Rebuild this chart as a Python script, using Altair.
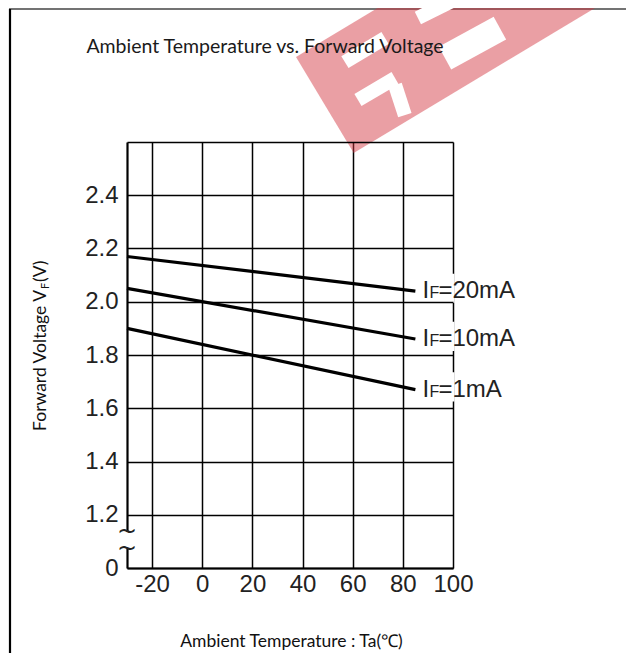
import altair as alt
import pandas as pd

# ---- chart data ----
temps = [-30, 85]
vf_20ma = [2.17, 2.04]
vf_10ma = [2.05, 1.86]
vf_1ma = [1.90, 1.67]
series_labels = ["=20mA", "=10mA", "=1mA"]

x_ticks = [-30, -20, 0, 20, 40, 60, 80, 100]
y_ticks = [1.0, 1.2, 1.4, 1.6, 1.8, 2.0, 2.2, 2.4, 2.6]

chart_title = "Ambient Temperature vs. Forward Voltage"
x_title = "Ambient Temperature : Ta(℃)"
y_title_main = "Forward Voltage V"
y_title_sub = "F"
y_title_unit = "(V)"

# axis-break squiggles on the value axis (compressed 0 .. 1.2 segment)
break_y = [1.135, 1.072]
break_x = [-30, -30]

# watermark (decoration): red band and white cut-outs, in data units
wm_band_x = [48.9, 185.7]
wm_band_y = [2.739, 3.513]
wm_cut_x1 = [56.9, 62.1, 76.9, 96.8, 86.0]
wm_cut_y1 = [2.900, 2.758, 2.814, 2.915, 3.066]
wm_cut_x2 = [72.9, 76.9, 80.8, 118.7, 106.8]
wm_cut_y2 = [2.991, 2.840, 2.701, 3.028, 3.163]
wm_cut_w = [14, 14, 14, 26, 14]

rows = []
for lab, vals in zip(series_labels, [vf_20ma, vf_10ma, vf_1ma]):
    for t, v in zip(temps, vals):
        rows.append({"series": lab, "temp": t, "vf": v})
lines_df = pd.DataFrame(rows)
ends_df = pd.DataFrame({
    "series": series_labels,
    "temp": [temps[-1]] * 3,
    "vf": [vf_20ma[-1], vf_10ma[-1], vf_1ma[-1]],
})
break_df = pd.DataFrame({"x": break_x, "y": break_y})
band_df = pd.DataFrame({"x": [wm_band_x[0]], "y": [wm_band_y[0]],
                        "x2": [wm_band_x[1]], "y2": [wm_band_y[1]]})
cut_df = pd.DataFrame({"x": wm_cut_x1, "y": wm_cut_y1, "x2": wm_cut_x2,
                       "y2": wm_cut_y2, "w": wm_cut_w})

xscale = alt.Scale(domain=[-30, 100], nice=False, zero=False)
yscale = alt.Scale(domain=[1.0, 2.6], nice=False, zero=False)

LABEL_FONT = "Liberation Sans"
TITLE_FONT = "Lato"

x_axis = alt.Axis(
    values=x_ticks,
    labelExpr="datum.value == -30 ? '' : toString(datum.value)",
    labelFont=LABEL_FONT, labelFontSize=24, labelColor="#222",
    labelPadding=4, ticks=False, labelOverlap=False, labelFlush=False,
    domain=True, domainColor="black", domainWidth=2,
    grid=True, gridColor="black", gridOpacity=1,
    gridWidth={"condition": {"test": "datum.value === -30", "value": 2.2}, "value": 1.5},
    zindex=0,
    title=x_title,
    titleFont=TITLE_FONT, titleFontSize=17.5, titleFontWeight="normal", titleColor="#111",
    titleX=164, titleY=78, titleBaseline="alphabetic", titleAlign="center",
)
y_axis = alt.Axis(
    values=y_ticks,
    labelExpr="datum.value > 2.5 ? '' : (datum.value < 1.1 ? '0' : format(datum.value, '.1f'))",
    labelFont=LABEL_FONT, labelFontSize=24, labelColor="#222",
    labelPadding=9, ticks=False, domain=False, labelOverlap=False, labelFlush=False,
    grid=True, gridColor="black", gridOpacity=1, gridWidth=1.5,
    zindex=1,
    title="",
)

title_mark = alt.Chart().mark_text(
    text=chart_title, font=TITLE_FONT, fontSize=19.5, color="#1a1a1a",
    align="center", baseline="alphabetic", clip=False,
).encode(x=alt.value(138), y=alt.value(-89))

# rotated value-axis title with a subscript F
yt_kw = dict(angle=270, baseline="alphabetic", font=TITLE_FONT, color="#111", clip=False)
yt_main = alt.Chart().mark_text(text=y_title_main, align="right", fontSize=17.5, **yt_kw).encode(
    x=alt.value(-81), y=alt.value(148))
yt_sub = alt.Chart().mark_text(text=y_title_sub, align="left", fontSize=11, dx=1, dy=3, **yt_kw).encode(
    x=alt.value(-81), y=alt.value(148))
yt_unit = alt.Chart().mark_text(text=y_title_unit, align="left", fontSize=17.5, dx=8, **yt_kw).encode(
    x=alt.value(-81), y=alt.value(148))

band = alt.Chart(band_df).mark_rule(
    strokeWidth=112, strokeCap="butt", color="#D2353F", opacity=0.475, clip=False
).encode(
    x=alt.X("x:Q", scale=xscale, axis=x_axis), y=alt.Y("y:Q", scale=yscale, axis=y_axis),
    x2="x2:Q", y2="y2:Q",
)
cuts = alt.Chart(cut_df).mark_rule(strokeCap="butt", color="white", clip=False).encode(
    x=alt.X("x:Q", scale=xscale), y=alt.Y("y:Q", scale=yscale),
    x2="x2:Q", y2="y2:Q",
    strokeWidth=alt.StrokeWidth("w:Q", scale=None),
)

lines = alt.Chart(lines_df).mark_line(color="black", strokeWidth=3.2).encode(
    x=alt.X("temp:Q", scale=xscale, axis=x_axis),
    y=alt.Y("vf:Q", scale=yscale, axis=y_axis),
    detail="series:N",
)

boxes = alt.Chart(ends_df).transform_calculate(
    bx1="datum.temp + 2", bx2="100.6", by1="datum.vf - 0.045", by2="datum.vf + 0.065"
).mark_rect(color="white", clip=False).encode(
    x=alt.X("bx1:Q", scale=xscale), x2="bx2:Q",
    y=alt.Y("by1:Q", scale=yscale), y2="by2:Q",
)

label_base = alt.Chart(ends_df).encode(
    x=alt.X("temp:Q", scale=xscale), y=alt.Y("vf:Q", scale=yscale)
)
lab_i = label_base.mark_text(
    text="I", align="left", baseline="alphabetic", dx=7, dy=7,
    font=LABEL_FONT, fontSize=24, color="#222", clip=False
)
lab_f = label_base.mark_text(
    text="F", align="left", baseline="alphabetic", dx=14, dy=7,
    font=LABEL_FONT, fontSize=16, color="#222", clip=False
)
lab_rest = label_base.mark_text(
    align="left", baseline="alphabetic", dx=23, dy=7,
    font=LABEL_FONT, fontSize=24, color="#222", clip=False
).encode(text="series:N")

brk_base = alt.Chart(break_df).encode(
    x=alt.X("x:Q", scale=xscale), y=alt.Y("y:Q", scale=yscale)
)
brk_gap = alt.Chart(pd.DataFrame({"x": [break_x[0]], "y": [break_y[1]], "y2": [break_y[0]]})).mark_rule(
    color="white", strokeWidth=6, clip=False
).encode(x=alt.X("x:Q", scale=xscale), y=alt.Y("y:Q", scale=yscale), y2="y2:Q")
brk_sq = brk_base.mark_text(
    text="~", font="DejaVu Sans", fontSize=24, color="#222", baseline="middle", align="center", clip=False
)

frame_left = alt.Chart().mark_rule(color="black", strokeWidth=2.2).encode(
    x=alt.value(-117), y=alt.value(-133), y2=alt.value(700)
)
frame_top = alt.Chart().mark_rule(color="#444", strokeWidth=1.5).encode(
    x=alt.value(-118), x2=alt.value(520), y=alt.value(-133)
)

chart = alt.layer(
    lines, boxes, lab_i, lab_f, lab_rest, brk_gap, brk_sq, frame_top, band, cuts,
    title_mark, yt_main, yt_sub, yt_unit, frame_left
).properties(
    width=326, height=426,
    autosize=alt.AutoSizeParams(type="none"),
    padding={"left": 119, "top": 134, "right": 173, "bottom": 85},
).configure_view(stroke=None).configure(background="white")

chart.save("out.html", embed_options={"renderer": "svg", "actions": False})
